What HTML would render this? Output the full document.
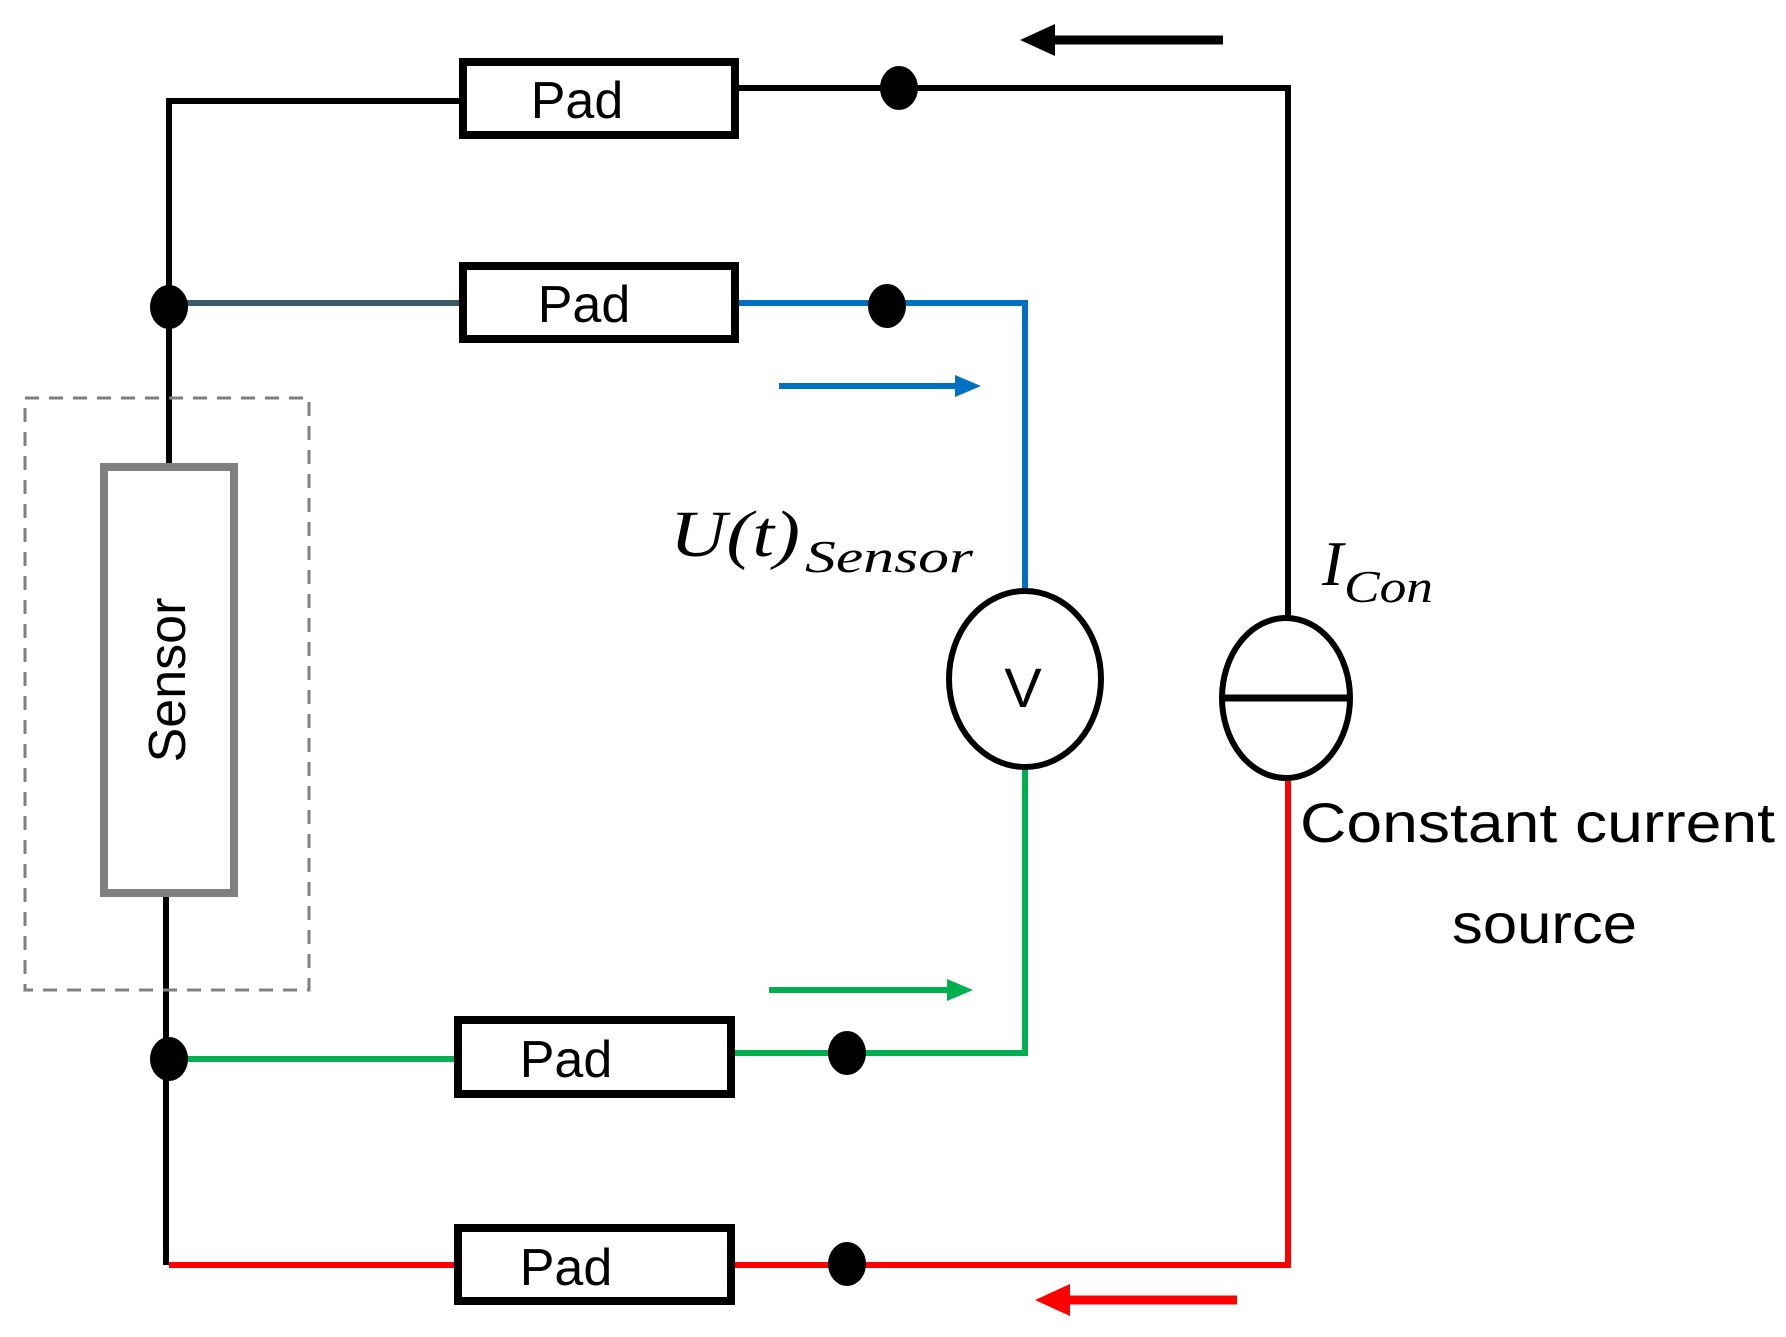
<!DOCTYPE html>
<html><head><style>body{margin:0;background:#fff}svg{display:block}</style></head><body>
<svg width="1786" height="1337" viewBox="0 0 1786 1337" xmlns="http://www.w3.org/2000/svg" font-family="Liberation Sans, sans-serif">
<g fill="none" stroke-width="6">
<polyline points="169,467 169,101 461,101" stroke="#000"/>
<polyline points="737,88 1288,88 1288,618" stroke="#000"/>
<line x1="169" y1="303" x2="461" y2="303" stroke="#3b5a68"/>
<polyline points="737,303 1025,303 1025,591" stroke="#0070c0"/>
<line x1="169" y1="1059" x2="456" y2="1059" stroke="#00b050"/>
<polyline points="1025,767 1025,1053 733,1053" stroke="#00b050"/>
<line x1="166" y1="895" x2="166" y2="1265" stroke="#000"/>
<line x1="169" y1="1265" x2="456" y2="1265" stroke="#ff0000"/>
<polyline points="733,1265 1288,1265 1288,779" stroke="#ff0000"/>
</g>
<rect x="25" y="398" width="284" height="592" fill="none" stroke="#808080" stroke-width="3" stroke-dasharray="14,10"/>
<rect x="104" y="467" width="130" height="426" fill="#fff" stroke="#808080" stroke-width="8"/>
<text transform="translate(185,680) rotate(-90)" text-anchor="middle" font-size="52" fill="#000">Sensor</text>
<g fill="#fff" stroke="#000" stroke-width="8">
<rect x="463" y="62" width="272" height="73"/>
<rect x="463" y="266" width="272" height="73"/>
<rect x="458" y="1020" width="273" height="74"/>
<rect x="458" y="1228" width="273" height="73"/>
</g>
<g font-size="52" fill="#000" text-anchor="middle">
<text x="577" y="118">Pad</text>
<text x="584" y="322">Pad</text>
<text x="566" y="1077">Pad</text>
<text x="566" y="1285">Pad</text>
</g>
<g fill="#000">
<ellipse cx="899" cy="88" rx="19" ry="22"/>
<ellipse cx="169" cy="307" rx="19" ry="22"/>
<ellipse cx="887" cy="306" rx="19" ry="22"/>
<ellipse cx="169" cy="1059" rx="19" ry="22"/>
<ellipse cx="847" cy="1053" rx="19" ry="22"/>
<ellipse cx="847" cy="1264" rx="19" ry="22"/>
</g>
<ellipse cx="1025" cy="679" rx="76" ry="88" fill="#fff" stroke="#000" stroke-width="6"/>
<text x="1023" y="707" text-anchor="middle" font-size="56">V</text>
<ellipse cx="1286" cy="698" rx="64" ry="80" fill="#fff" stroke="#000" stroke-width="6"/>
<line x1="1222" y1="698" x2="1350" y2="698" stroke="#000" stroke-width="7"/>
<text x="670" y="556" font-family="Liberation Serif, serif" font-style="italic" font-size="66" textLength="130" lengthAdjust="spacingAndGlyphs">U(t)</text>
<text x="805" y="572" font-family="Liberation Serif, serif" font-style="italic" font-size="46" textLength="168" lengthAdjust="spacingAndGlyphs">Sensor</text>
<text x="1322" y="585" font-family="Liberation Serif, serif" font-style="italic" font-size="64">I</text>
<text x="1344" y="602" font-family="Liberation Serif, serif" font-style="italic" font-size="46" textLength="89" lengthAdjust="spacingAndGlyphs">Con</text>
<text x="1300" y="842" font-size="56" textLength="475" lengthAdjust="spacingAndGlyphs">Constant current</text>
<text x="1452" y="943" font-size="56" textLength="185" lengthAdjust="spacingAndGlyphs">source</text>
<line x1="779" y1="386" x2="960" y2="386" stroke="#0070c0" stroke-width="6"/>
<polygon points="981,386 955,375 955,397" fill="#0070c0"/>
<line x1="769" y1="990" x2="952" y2="990" stroke="#00b050" stroke-width="6"/>
<polygon points="973,990 947,979 947,1001" fill="#00b050"/>
<line x1="1050" y1="40" x2="1223" y2="40" stroke="#000" stroke-width="9"/>
<polygon points="1020,40 1055,24 1055,56" fill="#000"/>
<line x1="1065" y1="1300" x2="1237" y2="1300" stroke="#ff0000" stroke-width="9"/>
<polygon points="1035,1300 1070,1284 1070,1316" fill="#ff0000"/>
</svg>
</body></html>
